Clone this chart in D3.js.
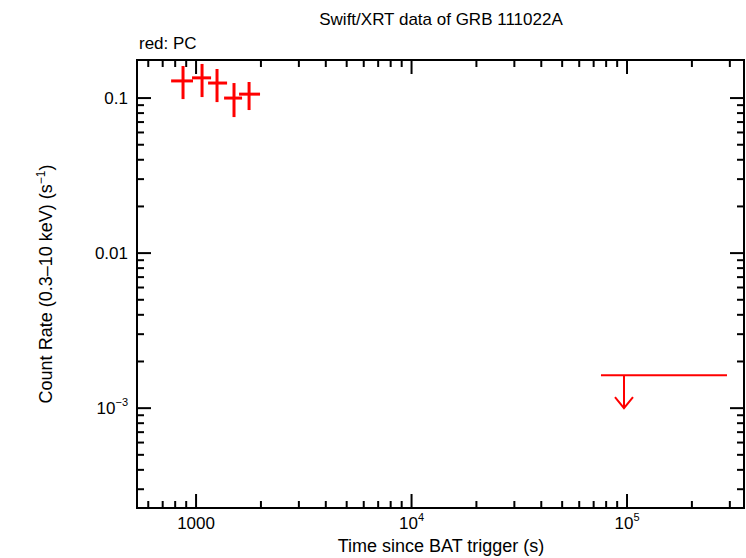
<!DOCTYPE html>
<html><head><meta charset="utf-8">
<script src="https://cdn.jsdelivr.net/npm/d3@7"></script>
<style>body{margin:0;background:#fff}text{font-family:"Liberation Sans",Arial,sans-serif}</style>
</head><body><svg id="c"></svg>
<script>
// PC mode points
const pcTime = [870, 1066, 1251, 1500, 1762];
const pcTimeLo = [766, 958, 1137, 1349, 1583];
const pcTimeHi = [968, 1174, 1393, 1635, 1981];
const pcRate = [0.129, 0.135, 0.125, 0.100, 0.106];
const pcRateLo = [0.0985, 0.1015, 0.0942, 0.0754, 0.0837];
const pcRateHi = [0.161, 0.166, 0.154, 0.125, 0.127];
// upper limit
const ulTime = [96800], ulTimeLo = [75700], ulTimeHi = [291000], ulRate = [0.00163], ulArrowTo = [0.001];

const W = 746, H = 558;
const m = {left: 137, right: 2, top: 60, bottom: 50};
const svg = d3.select('#c').attr('width', W).attr('height', H);
const x = d3.scaleLog().domain([532, 349000]).range([m.left, W - m.right]);
const y = d3.scaleLog().domain([0.000227, 0.176]).range([H - m.bottom, m.top]);
const x0 = m.left, x1 = W - m.right, y0 = H - m.bottom, y1 = m.top;

const g = svg.append('g');
// minor/major ticks
function ticks(scale, dom) {
  const out = [];
  for (let e = Math.floor(Math.log10(dom[0])); e <= Math.ceil(Math.log10(dom[1])); e++)
    for (let k = 1; k < 10; k++) {
      const v = k * Math.pow(10, e);
      if (v >= dom[0] && v <= dom[1]) out.push({v, major: k === 1});
    }
  return out;
}
ticks(x, x.domain()).forEach(t => {
  const px = x(t.v), L = t.major ? 14 : 7;
  g.append('line').attr('x1', px).attr('x2', px).attr('y1', y0).attr('y2', y0 - L).attr('stroke', '#000').attr('stroke-width', 2);
  g.append('line').attr('x1', px).attr('x2', px).attr('y1', y1).attr('y2', y1 + L).attr('stroke', '#000').attr('stroke-width', 2);
});
ticks(y, y.domain()).forEach(t => {
  const py = y(t.v), L = t.major ? 14 : 7;
  g.append('line').attr('y1', py).attr('y2', py).attr('x1', x0).attr('x2', x0 + L).attr('stroke', '#000').attr('stroke-width', 2);
  g.append('line').attr('y1', py).attr('y2', py).attr('x1', x1).attr('x2', x1 - L).attr('stroke', '#000').attr('stroke-width', 2);
});
g.append('rect').attr('x', x0).attr('y', y1).attr('width', x1 - x0).attr('height', y0 - y1)
  .attr('fill', 'none').attr('stroke', '#000').attr('stroke-width', 2);

// tick labels
const xl = [[1000, '1000'], [1e4, '10', '4'], [1e5, '10', '5']];
xl.forEach(d => {
  const t = g.append('text').attr('x', x(d[0])).attr('y', y0 + 21).attr('text-anchor', 'middle').attr('font-size', 17);
  t.append('tspan').text(d[1]);
  if (d[2]) t.append('tspan').attr('dy', -8).attr('font-size', 11).text(d[2]);
});
const yl = [[0.1, '0.1'], [0.01, '0.01'], [0.001, '10', '−3']];
yl.forEach(d => {
  const t = g.append('text').attr('x', x0 - 9).attr('y', y(d[0]) + 6).attr('text-anchor', 'end').attr('font-size', 17);
  t.append('tspan').text(d[1]);
  if (d[2]) t.append('tspan').attr('dy', -8).attr('font-size', 11).text(d[2]);
});

// titles
svg.append('text').attr('x', 441).attr('y', 25).attr('text-anchor', 'middle').attr('font-size', 17).text('Swift/XRT data of GRB 111022A');
svg.append('text').attr('x', 139).attr('y', 49).attr('font-size', 17).text('red: PC');
svg.append('text').attr('x', 441).attr('y', 552).attr('text-anchor', 'middle').attr('font-size', 18).text('Time since BAT trigger (s)');
const yt = svg.append('text').attr('transform', `translate(52,${(y0 + y1) / 2}) rotate(-90)`).attr('text-anchor', 'middle').attr('font-size', 18);
yt.append('tspan').text('Count Rate (0.3–10 keV) (s');
yt.append('tspan').attr('dy', -7).attr('font-size', 12).text('−1');
yt.append('tspan').attr('dy', 7).text(')');

// data
const red = '#ff0000';
pcTime.forEach((t, i) => {
  g.append('line').attr('x1', x(pcTimeLo[i])).attr('x2', x(pcTimeHi[i])).attr('y1', y(pcRate[i])).attr('y2', y(pcRate[i])).attr('stroke', red).attr('stroke-width', 3);
  g.append('line').attr('x1', x(t)).attr('x2', x(t)).attr('y1', y(pcRateLo[i])).attr('y2', y(pcRateHi[i])).attr('stroke', red).attr('stroke-width', 3);
});
ulTime.forEach((t, i) => {
  g.append('line').attr('x1', x(ulTimeLo[i])).attr('x2', x(ulTimeHi[i])).attr('y1', y(ulRate[i])).attr('y2', y(ulRate[i])).attr('stroke', red).attr('stroke-width', 2);
  const ya = y(ulArrowTo[i]);
  g.append('line').attr('x1', x(t)).attr('x2', x(t)).attr('y1', y(ulRate[i])).attr('y2', ya).attr('stroke', red).attr('stroke-width', 2);
  g.append('path').attr('d', `M${x(t) - 9},${ya - 11}L${x(t)},${ya}L${x(t) + 9},${ya - 11}`).attr('fill', 'none').attr('stroke', red).attr('stroke-width', 2);
});
</script></body></html>
